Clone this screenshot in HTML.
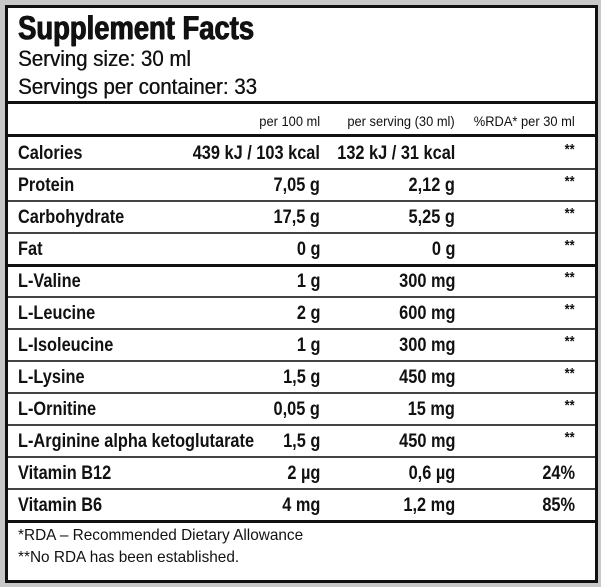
<!DOCTYPE html>
<html><head><style>
body{margin:0;width:601px;height:587px;background:#c8c8c8;overflow:hidden;font-family:"Liberation Sans",sans-serif;color:#111}
#b{position:absolute;left:5px;top:5px;width:587px;height:572px;border:3px solid #111;background:#fff}
.t{position:absolute;white-space:nowrap;display:inline-block}
.l{transform-origin:left center}
.r{transform-origin:right center}
</style></head><body>
<div id="b"></div>
<div style="position:absolute;left:0;top:0;width:601px;height:587px">
<span class="t l" style="left:18px;top:9px;font-size:33px;font-weight:bold;transform:scaleX(.83);text-shadow:0.8px 0 #111,-0.4px 0 #111,0 0.6px #111">Supplement Facts</span>
<span class="t l" style="left:18px;top:46px;font-size:22px;transform:scaleX(.93);text-shadow:0.4px 0 #111">Serving size: 30 ml</span>
<span class="t l" style="left:18px;top:74px;font-size:22px;transform:scaleX(.93);text-shadow:0.4px 0 #111">Servings per container: 33</span>
</div>
<div style="position:absolute;left:8px;top:101px;width:587px;height:3px;background:#111"></div>
<div style="position:absolute;left:8px;top:134px;width:587px;height:3px;background:#111"></div>
<div id="rows"></div>
<script>
var rows=[["Calories","439 kJ / 103 kcal","132 kJ / 31 kcal","**"],["Protein","7,05 g","2,12 g","**"],["Carbohydrate","17,5 g","5,25 g","**"],["Fat","0 g","0 g","**"],["L-Valine","1 g","300 mg","**"],["L-Leucine","2 g","600 mg","**"],["L-Isoleucine","1 g","300 mg","**"],["L-Lysine","1,5 g","450 mg","**"],["L-Ornitine","0,05 g","15 mg","**"],["L-Arginine alpha ketoglutarate","1,5 g","450 mg","**"],["Vitamin B12","2 µg","0,6 µg","24%"],["Vitamin B6","4 mg","1,2 mg","85%"]];
var h='';
h+='<span class="t r" style="right:281px;top:113px;font-size:14px;transform:scaleX(.92)">per 100 ml</span>';
h+='<span class="t r" style="right:146px;top:113px;font-size:14px;transform:scaleX(.92)">per serving (30 ml)</span>';
h+='<span class="t r" style="right:26px;top:113px;font-size:14px;transform:scaleX(.92)">%RDA* per 30 ml</span>';
for(var i=0;i<rows.length;i++){var y=137+i*32,r=rows[i];
var st=r[3]=="**";
h+='<span class="t l" style="left:18px;top:'+(y+6)+'px;font-size:19px;font-weight:bold;transform:scaleX(.86)">'+r[0]+'</span>';
h+='<span class="t r" style="right:281px;top:'+(y+6)+'px;font-size:19px;font-weight:bold;transform:scaleX(.86)">'+r[1]+'</span>';
h+='<span class="t r" style="right:146px;top:'+(y+6)+'px;font-size:19px;font-weight:bold;transform:scaleX(.86)">'+r[2]+'</span>';
h+='<span class="t r" style="right:26px;top:'+(y+(st?4:6))+'px;font-size:'+(st?15:19)+'px;font-weight:bold;transform:scaleX(.86)">'+r[3]+'</span>';
if(i<rows.length-1){h+='<div style="position:absolute;left:8px;top:'+(y+31)+'px;width:587px;height:'+(i==3?3:2)+'px;background:'+(i==3?'#111':'#444')+'"></div>';}
}
h+='<div style="position:absolute;left:8px;top:520px;width:587px;height:3px;background:#111"></div>';
h+='<span class="t l" style="left:18px;top:527px;font-size:16px;transform:scaleX(.96)">*RDA – Recommended Dietary Allowance</span>';
h+='<span class="t l" style="left:18px;top:549px;font-size:16px;transform:scaleX(.96)">**No RDA has been established.</span>';
document.getElementById('rows').innerHTML=h;
</script>
</body></html>
